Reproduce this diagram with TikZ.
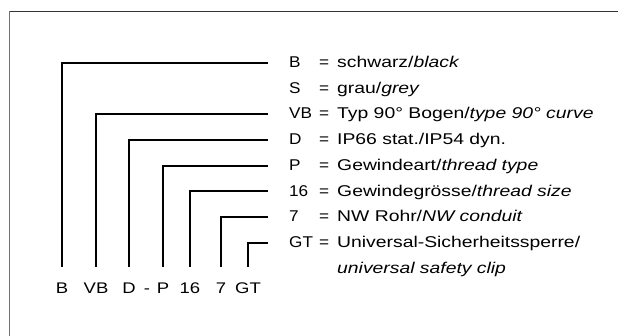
\documentclass[tikz,border=0pt]{standalone}
\usepackage{fontspec}
\setmainfont{Liberation Sans}[FakeStretch=1.2]
\newfontfamily\descfont{Liberation Sans}[FakeStretch=1.24]
\newfontfamily\keyfont{Liberation Sans}[FakeStretch=1.1]
\begin{document}
\begin{tikzpicture}[x=1pt,y=-1pt,
  lbl/.style={inner sep=0pt,anchor=base west,font=\keyfont\fontsize{15.6}{17}\selectfont},
  desc/.style={inner sep=0pt,anchor=base west,font=\descfont\fontsize{15.6}{17}\selectfont},
  bot/.style={inner sep=0pt,anchor=base,font=\fontsize{15.4}{17}\selectfont},
  bar/.style={line width=2pt,line cap=butt}]
\useasboundingbox (0,0) rectangle (618,336);
\draw[line width=1.2pt,black!80] (9.5,11.5) -- (618,11.5);
\draw[line width=1.2pt,black!55] (9.5,11.5) -- (9.5,336);
% rows
\foreach \k/\y/\key/\txt in {
 1/63/B/{schwarz/\textit{black}},
 2/88.5/S/{grau/\textit{grey}},
 3/114/VB/{Typ 90° Bogen/\textit{type 90° curve}},
 4/140/D/{IP66 stat./IP54 dyn.},
 5/166/P/{Gewindeart/\textit{thread type}},
 6/191.5/16/{Gewindegrösse/\textit{thread size}},
 7/217/7/{NW Rohr/\textit{NW conduit}},
 8/243/GT/{Universal-Sicherheitssperre/}}{
  \node[lbl] (k\k) at (289,\y+5) {\key};
  \node[lbl] (e\k) at (319,\y+5) {=};
  \node[desc] (t\k) at (337,\y+5) {\txt};
}
\node[desc] (t9) at (337,268.5+5) {\textit{universal safety clip}};
% bottom labels
\node[bot] (bB) at (62,294) {B};
\node[bot] (bVB) at (96,294) {VB};
\node[bot] (bD) at (129,294) {D};
\node[bot] (bdash) at (147,294) {-};
\node[bot] (bP) at (163,294) {P};
\node[bot] (b16) at (190,294) {16};
\node[bot] (b7) at (221,294) {7};
\node[bot] (bGT) at (248,294) {GT};
% bracket lines
\foreach \n/\x/\y in {B/62/63, VB/96/114, D/129/140, P/163/166, 16/190/191.5, 7/221/217, GT/248/243}{
  \coordinate (s\n) at (\x,267);
  \coordinate (c\n) at (\x,\y);
  \coordinate (e\n) at (267.5,\y);
  \draw[bar] (s\n) -- (c\n) -- (e\n);
}
\end{tikzpicture}
\end{document}
